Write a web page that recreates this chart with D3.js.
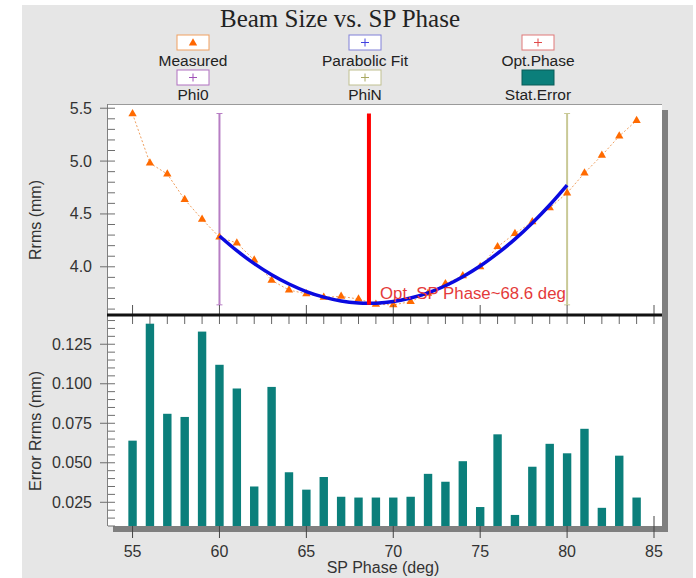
<!DOCTYPE html>
<html><head><meta charset="utf-8">
<script src="https://cdn.jsdelivr.net/npm/d3@7"></script>
<style>
html,body{margin:0;padding:0;background:#fff;}
svg{display:block;}
text{font-family:Arial,"Liberation Sans",sans-serif;}
</style></head>
<body>
<script>
// ---------- data ----------
const phases = [55,56,57,58,59,60,61,62,63,64,65,66,67,68,69,70,71,72,73,74,75,76,77,78,79,80,81,82,83,84];
const measuredRms = [5.447,4.981,4.877,4.636,4.450,4.280,4.225,4.063,3.872,3.780,3.745,3.711,3.720,3.695,3.645,3.640,3.670,3.750,3.840,3.915,4.000,4.190,4.315,4.425,4.557,4.698,4.887,5.054,5.236,5.384];
const statError = [0.064,0.138,0.081,0.079,0.133,0.112,0.097,0.035,0.098,0.044,0.033,0.041,0.0285,0.028,0.028,0.028,0.0285,0.043,0.038,0.051,0.022,0.068,0.017,0.0475,0.062,0.056,0.0715,0.0215,0.0545,0.028];
const fitPhase = [60,61,62,63,64,65,66,67,68,68.6,69,70,71,72,73,74,75,76,77,78,79,80];
const fitRms = [4.291,4.152,4.030,3.925,3.837,3.766,3.713,3.677,3.658,3.655,3.656,3.672,3.705,3.754,3.821,3.906,4.007,4.126,4.262,4.415,4.585,4.773];
const optPhase = 68.6, phi0 = 60, phiN = 80;
const markerRange = [3.64, 5.45];
const xTicks = [55,60,65,70,75,80,85];
const rmsTicks = [4.0,4.5,5.0,5.5];
const errTicks = [0.025,0.050,0.075,0.100,0.125];
const legendItems = ["Measured","Parabolic Fit","Opt.Phase","Phi0","PhiN","Stat.Error"];
const titleText = "Beam Size vs. SP Phase";
const optLabel = "Opt. SP Phase~68.6 deg";

// ---------- layout ----------
const W = 696, H = 578;
const L = 107, R = 662, T = 104, MID = 315, B = 526;

const svg = d3.select("body").append("svg").attr("width", W).attr("height", H);
svg.append("rect").attr("x",22).attr("y",5).attr("width",671).attr("height",573).attr("fill","#e6e6e6");

const x = d3.scaleLinear().domain([53.53, 85.46]).range([L, R]);
const yTop = d3.scaleLinear().domain([3.544, 5.54]).range([MID, T]);
const yBot = d3.scaleLinear().domain([0.010, 0.1435]).range([B, MID]);

// shadow
svg.append("rect").attr("x",R).attr("y",110).attr("width",6).attr("height",B+6-110).attr("fill","#7f7f7f");
svg.append("rect").attr("x",113).attr("y",B).attr("width",R+6-113).attr("height",6).attr("fill","#7f7f7f");
// plot area
svg.append("rect").attr("x",L).attr("y",T).attr("width",R-L).attr("height",B-T).attr("fill","#ffffff");
svg.append("line").attr("x1",L).attr("x2",R).attr("y1",T+0.5).attr("y2",T+0.5).attr("stroke","#9a9a9a");
svg.append("line").attr("x1",L+0.5).attr("x2",L+0.5).attr("y1",T).attr("y2",B).attr("stroke","#808080");

// title
svg.append("text").attr("x",340).attr("y",27).attr("text-anchor","middle")
  .style("font-family","'Liberation Serif','Times New Roman',serif").style("font-size","25px").attr("fill","#222").text(titleText);

// legend
const legCols = [193, 365, 538];
const legColors = [
  {border:"#f0a060", sym:"#ff6600", kind:"tri"},
  {border:"#8080d8", sym:"#4040e0", kind:"plus"},
  {border:"#e07878", sym:"#e04848", kind:"plus"},
  {border:"#b070c0", sym:"#a050b8", kind:"plus"},
  {border:"#c0c090", sym:"#a8a860", kind:"plus"},
  {border:"#0a5c58", sym:"#0b7f7b", kind:"fill"}
];
legendItems.forEach((name,i)=>{
  const cx = legCols[i%3], by = i<3 ? 35 : 70, ty = i<3 ? 66 : 100;
  const c = legColors[i];
  const g = svg.append("g");
  g.append("rect").attr("x",cx-16).attr("y",by).attr("width",32).attr("height",15)
    .attr("fill", c.kind==="fill" ? c.sym : "#fff").attr("stroke",c.border).attr("stroke-width",1);
  if (c.kind==="tri") {
    g.append("path").attr("d", d3.symbol(d3.symbolTriangle, 30)()).attr("transform",`translate(${cx},${by+8})`).attr("fill",c.sym);
  } else if (c.kind==="plus") {
    g.append("path").attr("d",`M${cx-4},${by+7.5}H${cx+4}M${cx},${by+3.5}V${by+11.5}`).attr("stroke",c.sym).attr("stroke-width",1);
  }
  g.append("text").attr("x",cx).attr("y",ty).attr("text-anchor","middle").style("font-size","15.5px").attr("fill","#222").text(name);
});

// ---------- top panel ----------
const gTop = svg.append("g");
[[phi0,"#b77ec4"],[phiN,"#c9c996"]].forEach(([p,col])=>{
  gTop.append("line").attr("x1",x(p)).attr("x2",x(p)).attr("y1",yTop(markerRange[1])).attr("y2",yTop(markerRange[0]))
    .attr("stroke",col).attr("stroke-width",2);
  markerRange.forEach(v=>{
    gTop.append("line").attr("x1",x(p)-3).attr("x2",x(p)+3).attr("y1",yTop(v)).attr("y2",yTop(v)).attr("stroke",col).attr("stroke-width",1);
  });
});
gTop.append("path").datum(phases.map((p,i)=>[p,measuredRms[i]]))
  .attr("d", d3.line().x(d=>x(d[0])).y(d=>yTop(d[1])))
  .attr("fill","none").attr("stroke","#f0a060").attr("stroke-width",1).attr("stroke-dasharray","2,2");
gTop.selectAll(".tri").data(phases.map((p,i)=>[p,measuredRms[i]])).enter().append("path")
  .attr("d", d3.symbol(d3.symbolTriangle, 30)())
  .attr("transform", d=>`translate(${x(d[0])},${yTop(d[1])})`).attr("fill","#ff6a00");
gTop.append("path").datum(fitPhase.map((p,i)=>[p,fitRms[i]]))
  .attr("d", d3.line().curve(d3.curveCatmullRom).x(d=>x(d[0])).y(d=>yTop(d[1])))
  .attr("fill","none").attr("stroke","#0a0ae0").attr("stroke-width",3.5);
gTop.append("line").attr("x1",x(optPhase)).attr("x2",x(optPhase)).attr("y1",yTop(markerRange[1])).attr("y2",yTop(markerRange[0]))
  .attr("stroke","#ff0000").attr("stroke-width",4);
gTop.append("text").attr("x",380).attr("y",299).style("font-size","16.8px").attr("fill","#e43a3a").text(optLabel);

const gyTop = gTop.append("g");
d3.range(3.6, 5.51, 0.1).forEach(v=>{
  const major = Math.abs(v*2 - Math.round(v*2)) < 1e-6;
  gyTop.append("line").attr("x1", major?100:108).attr("x2",115).attr("y1",yTop(v)).attr("y2",yTop(v)).attr("stroke","#6e6e6e").attr("stroke-width",1);
});
gyTop.selectAll("text").data(rmsTicks).enter().append("text")
  .attr("x",92).attr("y",d=>yTop(d)+5.5).attr("text-anchor","end").style("font-size","16px").attr("fill","#333")
  .text(d=>d3.format(".1f")(d));
xTicks.forEach(v=>{
  gTop.append("line").attr("x1",x(v)).attr("x2",x(v)).attr("y1",MID-10).attr("y2",MID).attr("stroke","#555");
});
svg.append("text").attr("transform","translate(41,220) rotate(-90)").attr("text-anchor","middle")
  .style("font-size","16px").attr("fill","#333").text("Rrms (mm)");

// ---------- bottom panel ----------
const gBot = svg.append("g");
xTicks.forEach(v=>{
  gBot.append("line").attr("x1",x(v)).attr("x2",x(v)).attr("y1",B-10).attr("y2",B+12).attr("stroke","#444");
});
gBot.selectAll(".bar").data(phases.map((p,i)=>[p,statError[i]])).enter().append("rect")
  .attr("x", d=>x(d[0])-4.2).attr("width",8.4)
  .attr("y", d=>yBot(d[1])).attr("height", d=>B - yBot(d[1])).attr("fill","#0b7f7b");
d3.range(55, 86, 1).forEach(v=>{
  gBot.append("line").attr("x1",x(v)).attr("x2",x(v)).attr("y1",MID).attr("y2",MID+9).attr("stroke","#666");
});
gBot.selectAll(".xl").data(xTicks).enter().append("text")
  .attr("x",d=>x(d)).attr("y",557).attr("text-anchor","middle").style("font-size","16px").attr("fill","#333").text(d=>d);
d3.range(0.010, 0.1436, 0.005).forEach(v=>{
  const major = Math.abs(v/0.025 - Math.round(v/0.025)) < 1e-6;
  gBot.append("line").attr("x1", major?100:108).attr("x2",115).attr("y1",yBot(v)).attr("y2",yBot(v)).attr("stroke","#6e6e6e");
});
gBot.selectAll(".yl").data(errTicks).enter().append("text")
  .attr("x",92).attr("y",d=>yBot(d)+5.5).attr("text-anchor","end").style("font-size","16px").attr("fill","#333")
  .text(d=>d3.format(".3f")(d));
svg.append("text").attr("transform","translate(41,431) rotate(-90)").attr("text-anchor","middle")
  .style("font-size","16px").attr("fill","#333").text("Error Rrms (mm)");
svg.append("text").attr("x",383).attr("y",573).attr("text-anchor","middle")
  .style("font-size","16px").attr("fill","#333").text("SP Phase (deg)");

svg.append("line").attr("x1",L).attr("x2",R).attr("y1",MID).attr("y2",MID).attr("stroke","#111").attr("stroke-width",3);
</script>
</body></html>
